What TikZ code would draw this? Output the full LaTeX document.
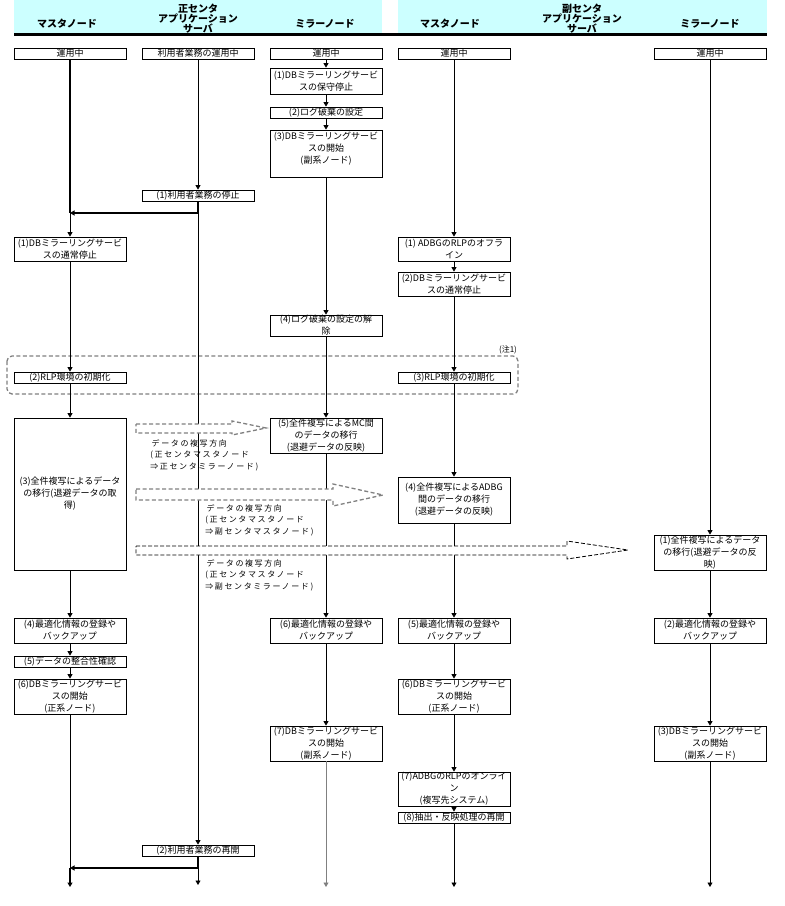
\documentclass[tikz,border=0pt]{standalone}
\usepackage{fontspec}
\setmainfont{Noto Sans CJK JP}
\newfontfamily\labelfont[LetterSpace=20]{Noto Sans CJK JP}
\usetikzlibrary{arrows.meta, positioning}
\definecolor{headcolor}{RGB}{204,255,255}
\definecolor{notecolor}{RGB}{128,128,128}

\begin{document}
\begin{tikzpicture}[
    x=1pt, y=-1pt,
    line width=0.8pt,
    procbox/.style={draw, fill=white, minimum width=112pt, minimum height=11pt, inner sep=0pt, align=center, font=\fontsize{9}{12}\selectfont},
    head/.style={font=\fontsize{10}{10}\selectfont\bfseries, align=center, inner sep=0pt},
    flow/.style={-{Triangle[length=4.5pt, width=5pt]}},
    sync/.style={line width=1.8pt},
    copyarrow/.style={draw=notecolor, line width=1.3pt, dash pattern=on 4pt off 2.5pt, fill=white},
    copyarrowthin/.style={draw=black, line width=0.8pt, dash pattern=on 4pt off 2pt, fill=white},
    copylabel/.style={font=\labelfont\fontsize{8}{11.5}\selectfont, align=left, anchor=north west, inner sep=0pt}
]
    \useasboundingbox (0,0) rectangle (785,906);

    % header
    \fill[headcolor] (14,0) rectangle (382,33);
    \fill[headcolor] (398,0) rectangle (767,33);
    \node[head] (hdm1) at (67,24) {マスタノード};
    \node[head] (hdapp1) at (198,19) {正センタ\\アプリケーション\\サーバ};
    \node[head] (hdr1) at (325,24) {ミラーノード};
    \node[head] (hdm2) at (450,24) {マスタノード};
    \node[head] (hdapp2) at (582,19) {副センタ\\アプリケーション\\サーバ};
    \node[head] (hdr2) at (710,24) {ミラーノード};
    \draw[line width=3pt] (14,34) -- (767,34);

    % (note 1) frame
    \draw[notecolor, line width=1.3pt, dash pattern=on 4pt off 2.5pt, rounded corners=5pt] (7,356) rectangle (518,394);
    \node[font=\fontsize{8}{8}\selectfont, inner sep=0pt] (note1) at (508,350) {(注1)};

    % master node (main center)
    \node[procbox] (m1run) at (70,53.5) {運用中};
    \node[procbox, minimum height=24pt] (m1stop) at (70,249) {(1)DBミラーリングサービ\\スの通常停止};
    \node[procbox] (m1rlp) at (70,377.5) {(2)RLP環境の初期化};
    \node[procbox, minimum height=152pt] (m1copy) at (70,494) {(3)全件複写によるデータ\\の移行(退避データの取\\得)};
    \node[procbox, minimum height=25pt] (m1opt) at (70,630.5) {(4)最適化情報の登録や\\バックアップ};
    \node[procbox] (m1chk) at (70,661.5) {(5)データの整合性確認};
    \node[procbox, minimum height=35pt] (m1start) at (70,696.5) {(6)DBミラーリングサービ\\スの開始\\(正系ノード)};

    % application server (main center)
    \node[procbox] (apprun) at (198,53.5) {利用者業務の運用中};
    \node[procbox] (appstop) at (198,195.5) {(1)利用者業務の停止};
    \node[procbox] (appresume) at (198,850.5) {(2)利用者業務の再開};

    % mirror node (main center)
    \node[procbox] (r1run) at (326,53.5) {運用中};
    \node[procbox, minimum height=26pt] (r1maint) at (326,81) {(1)DBミラーリングサービ\\スの保守停止};
    \node[procbox] (r1log) at (326,112.5) {(2)ログ破棄の設定};
    \node[procbox, minimum height=47pt] (r1start) at (326,153.5) {(3)DBミラーリングサービ\\スの開始\\(副系ノード)\\\mbox{}};
    \node[procbox, minimum height=21pt] (r1unlog) at (326,325.5) {(4)ログ破棄の設定の解\\除};
    \node[procbox, minimum height=35pt] (r1copy) at (326,435.5) {(5)全件複写によるMC間\\のデータの移行\\(退避データの反映)};
    \node[procbox, minimum height=25pt] (r1opt) at (326,630.5) {(6)最適化情報の登録や\\バックアップ};
    \node[procbox, minimum height=35pt] (r1start2) at (326,743.5) {(7)DBミラーリングサービ\\スの開始\\(副系ノード)};

    % master node (backup center)
    \node[procbox] (m2run) at (454,53.5) {運用中};
    \node[procbox, minimum height=24pt] (m2off) at (454,249) {(1) ADBGのRLPのオフラ\\イン};
    \node[procbox, minimum height=24pt] (m2stop) at (454,284) {(2)DBミラーリングサービ\\スの通常停止};
    \node[procbox] (m2rlp) at (454,377.5) {(3)RLP環境の初期化};
    \node[procbox, minimum height=46pt] (m2copy) at (454,500) {(4)全件複写によるADBG\\間のデータの移行\\(退避データの反映)};
    \node[procbox, minimum height=25pt] (m2opt) at (454,630.5) {(5)最適化情報の登録や\\バックアップ};
    \node[procbox, minimum height=35pt] (m2start) at (454,696.5) {(6)DBミラーリングサービ\\スの開始\\(正系ノード)};
    \node[procbox, minimum height=34pt] (m2online) at (454,789) {(7)ADBGのRLPのオンライ\\ン\\(複写先システム)};
    \node[procbox] (m2resume) at (454,817.5) {(8)抽出・反映処理の再開};

    % mirror node (backup center)
    \node[procbox] (r2run) at (710,53.5) {運用中};
    \node[procbox, minimum height=35pt] (r2copy) at (710,552.5) {(1)全件複写によるデータ\\の移行(退避データの反\\映)};
    \node[procbox, minimum height=25pt] (r2opt) at (710,630.5) {(2)最適化情報の登録や\\バックアップ};
    \node[procbox, minimum height=35pt] (r2start) at (710,743.5) {(3)DBミラーリングサービ\\スの開始\\(副系ノード)};

    % join points and line ends
    \coordinate (j1) at (70,213);
    \coordinate (j3) at (70,868);
    \coordinate (m1end) at (70,887);
    \coordinate (append) at (198,885);
    \coordinate (r1end) at (326,887);
    \coordinate (m2end) at (454,887);
    \coordinate (r2end) at (710,887);

    % connections
    \draw[sync] (m1run) -- (j1);
    \draw[flow] (apprun) -- (appstop);
    \draw[flow] (appstop) -- (appresume);
    \draw[flow] (appresume) -- (append);
    \draw[sync, flow] (appstop.south) |- (j1);
    \draw[flow] (j1) -- (m1stop);
    \draw[flow] (m1stop) -- (m1rlp);
    \draw[flow] (m1rlp) -- (m1copy);
    \draw[flow] (m1copy) -- (m1opt);
    \draw[flow] (m1opt) -- (m1chk);
    \draw[flow] (m1chk) -- (m1start);
    \draw (m1start) -- (j3);
    \draw[sync, flow] (j3) -- (m1end);
    \draw[sync, flow] (appresume.south) |- (j3);

    \draw[flow] (r1run) -- (r1maint);
    \draw[flow] (r1maint) -- (r1log);
    \draw[flow] (r1log) -- (r1start);
    \draw[flow] (r1start) -- (r1unlog);
    \draw[flow] (r1unlog) -- (r1copy);
    \draw[flow] (r1copy) -- (r1opt);
    \draw[flow] (r1opt) -- (r1start2);
    \draw[flow, notecolor] (r1start2) -- (r1end);

    \draw[flow] (m2run) -- (m2off);
    \draw[flow] (m2off) -- (m2stop);
    \draw[flow] (m2stop) -- (m2rlp);
    \draw[flow] (m2rlp) -- (m2copy);
    \draw[flow] (m2copy) -- (m2opt);
    \draw[flow] (m2opt) -- (m2start);
    \draw[flow] (m2start) -- (m2online);
    \draw[flow] (m2online) -- (m2resume);
    \draw[flow] (m2resume) -- (m2end);

    \draw[flow] (r2run) -- (r2copy);
    \draw[flow] (r2copy) -- (r2opt);
    \draw[flow] (r2opt) -- (r2start);
    \draw[flow] (r2start) -- (r2end);

    % copy direction arrows
    \draw[copyarrow] (136,424) -- (232,424) -- (232,421) -- (266,428) -- (232,435) -- (232,433) -- (136,433) -- cycle;
    \draw[copyarrow] (136,489) -- (333,489) -- (333,484) -- (383,495) -- (333,506) -- (333,500) -- (136,500) -- cycle;
    \draw[copyarrowthin] (136,546) -- (567,546) -- (567,541) -- (628,550) -- (567,559) -- (567,555) -- (136,555) -- cycle;
    \node[copylabel] (dir1) at (150,439) {\,データの複写方向\\(正センタマスタノード\\⇒正センタミラーノード)};
    \node[copylabel] (dir2) at (205,504) {\,データの複写方向\\(正センタマスタノード\\⇒副センタマスタノード)};
    \node[copylabel] (dir3) at (205,559) {\,データの複写方向\\(正センタマスタノード\\⇒副センタミラーノード)};
\end{tikzpicture}
\end{document}
